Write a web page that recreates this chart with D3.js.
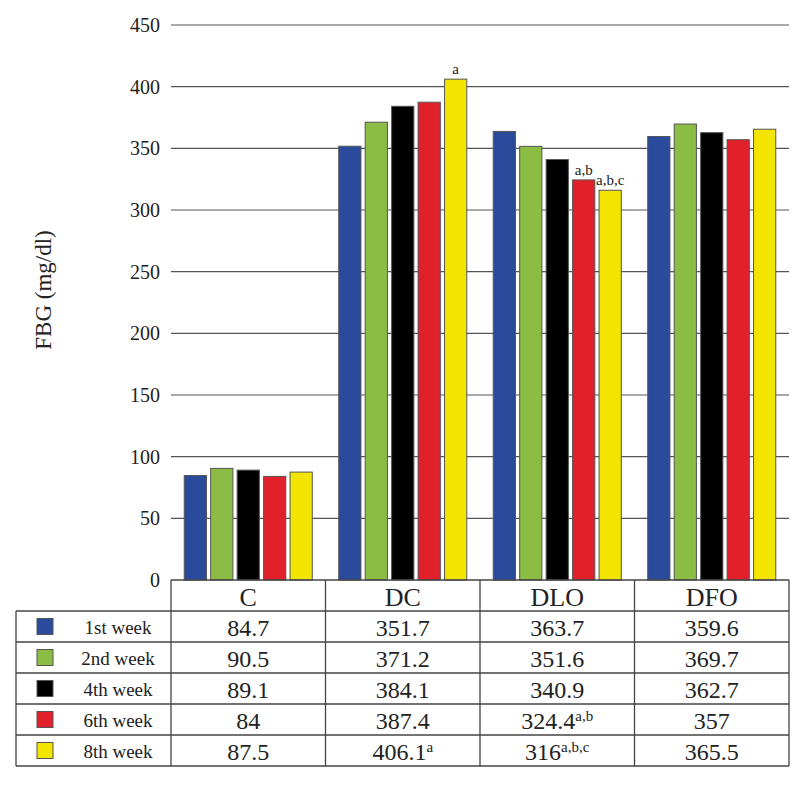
<!DOCTYPE html>
<html>
<head>
<meta charset="utf-8">
<script src="https://cdn.jsdelivr.net/npm/d3@7"></script>
<style>
  body { margin: 0; background: #fff; }
  svg { display: block; font-family: 'Liberation Serif', 'Times New Roman', serif; }
</style>
</head>
<body>
<div id="app"></div>
<script>
// data
const groups = ['C', 'DC', 'DLO', 'DFO'];
const weeks = ['1st week', '2nd week', '4th week', '6th week', '8th week'];
const colors = ['#2a4b9b', '#8bbd45', '#000000', '#e2202a', '#f4e500'];
const values = [
  [84.7, 351.7, 363.7, 359.6],
  [90.5, 371.2, 351.6, 369.7],
  [89.1, 384.1, 340.9, 362.7],
  [84, 387.4, 324.4, 357],
  [87.5, 406.1, 316, 365.5],
];
// superscripts [week][group]
const marks = [
  ['', '', '', ''],
  ['', '', '', ''],
  ['', '', '', ''],
  ['', '', 'a,b', ''],
  ['', 'a', 'a,b,c', ''],
];
const yTicks = [0, 50, 100, 150, 200, 250, 300, 350, 400, 450];

const width = 798, height = 794;
const plotLeft = 171, plotRight = 789, plotTop = 25, plotBottom = 580;
const rowH = 31;

const svg = d3.select('#app').append('svg')
  .attr('width', width).attr('height', height);

const x0 = d3.scaleBand().domain(groups).range([plotLeft, plotRight]);
const x1 = d3.scaleBand().domain(d3.range(weeks.length))
  .range([0, x0.bandwidth()]).paddingInner(0.16).paddingOuter(0.5);
const y = d3.scaleLinear().domain([0, 450]).range([plotBottom, plotTop]);

// gridlines
svg.append('g').selectAll('line').data(yTicks.filter(d => d > 0)).join('line')
  .attr('x1', plotLeft).attr('x2', plotRight)
  .attr('y1', d => y(d)).attr('y2', d => y(d))
  .attr('stroke', '#555').attr('stroke-width', 1.2);

// y tick labels
svg.append('g').selectAll('text').data(yTicks).join('text')
  .attr('x', 160).attr('y', d => y(d)).attr('dy', '0.35em')
  .attr('text-anchor', 'end').attr('font-size', 20).attr('fill', '#222')
  .text(d => d);

svg.append('text')
  .attr('transform', 'translate(51,290) rotate(-90)')
  .attr('text-anchor', 'middle').attr('font-size', 23).attr('fill', '#222')
  .text('FBG (mg/dl)');

// bars
const bars = [];
weeks.forEach((w, i) => groups.forEach((g, j) => bars.push({ i, j, v: values[i][j], m: marks[i][j] })));

svg.append('g').selectAll('rect').data(bars).join('rect')
  .attr('x', d => x0(groups[d.j]) + x1(d.i))
  .attr('width', x1.bandwidth())
  .attr('y', d => y(d.v))
  .attr('height', d => plotBottom - y(d.v))
  .attr('fill', d => colors[d.i])
  .attr('stroke', '#555').attr('stroke-width', 1);

svg.append('g').selectAll('text').data(bars.filter(d => d.m)).join('text')
  .attr('x', d => x0(groups[d.j]) + x1(d.i) + x1.bandwidth() / 2)
  .attr('y', d => y(d.v) - 5)
  .attr('text-anchor', 'middle').attr('font-size', 15).attr('fill', '#222')
  .text(d => d.m);

// table
const tbl = svg.append('g').attr('stroke', '#444').attr('stroke-width', 1.3);
const tBottom = plotBottom + rowH * (weeks.length + 1);
const legLeft = 16;
tbl.append('line').attr('x1', plotLeft).attr('x2', plotRight).attr('y1', plotBottom).attr('y2', plotBottom);
d3.range(1, weeks.length + 2).forEach(k => {
  tbl.append('line').attr('x1', legLeft).attr('x2', plotRight)
    .attr('y1', plotBottom + rowH * k).attr('y2', plotBottom + rowH * k);
});
tbl.append('line').attr('x1', legLeft).attr('x2', legLeft).attr('y1', plotBottom + rowH).attr('y2', tBottom);
groups.forEach(g => {
  tbl.append('line').attr('x1', x0(g)).attr('x2', x0(g)).attr('y1', plotBottom).attr('y2', tBottom);
});
tbl.append('line').attr('x1', plotRight).attr('x2', plotRight).attr('y1', plotBottom).attr('y2', tBottom);

svg.append('g').selectAll('text').data(groups).join('text')
  .attr('x', d => x0(d) + x0.bandwidth() / 2).attr('y', plotBottom + rowH / 2 + 1)
  .attr('dy', '0.35em').attr('text-anchor', 'middle')
  .attr('font-size', 26).attr('fill', '#222').text(d => d);

// legend column
const leg = svg.append('g').selectAll('g').data(weeks).join('g')
  .attr('transform', (d, i) => 'translate(0,' + (plotBottom + rowH * (i + 1)) + ')');
leg.append('rect').attr('x', 37).attr('y', rowH / 2 - 8).attr('width', 16).attr('height', 16)
  .attr('fill', (d, i) => colors[i]).attr('stroke', '#555');
leg.append('text').attr('x', 118).attr('y', rowH / 2 + 1).attr('dy', '0.35em')
  .attr('text-anchor', 'middle').attr('font-size', 19).attr('fill', '#222').text(d => d);

// cell values
const cells = svg.append('g').selectAll('text').data(bars).join('text')
  .attr('x', d => x0(groups[d.j]) + x0.bandwidth() / 2)
  .attr('y', d => plotBottom + rowH * (d.i + 1) + rowH / 2 + 1)
  .attr('dy', '0.35em').attr('text-anchor', 'middle')
  .attr('font-size', 24).attr('fill', '#222');
cells.append('tspan').text(d => d.v);
cells.filter(d => d.m).append('tspan')
  .attr('font-size', 15).attr('dy', '-0.55em').text(d => d.m);
</script>
</body>
</html>
